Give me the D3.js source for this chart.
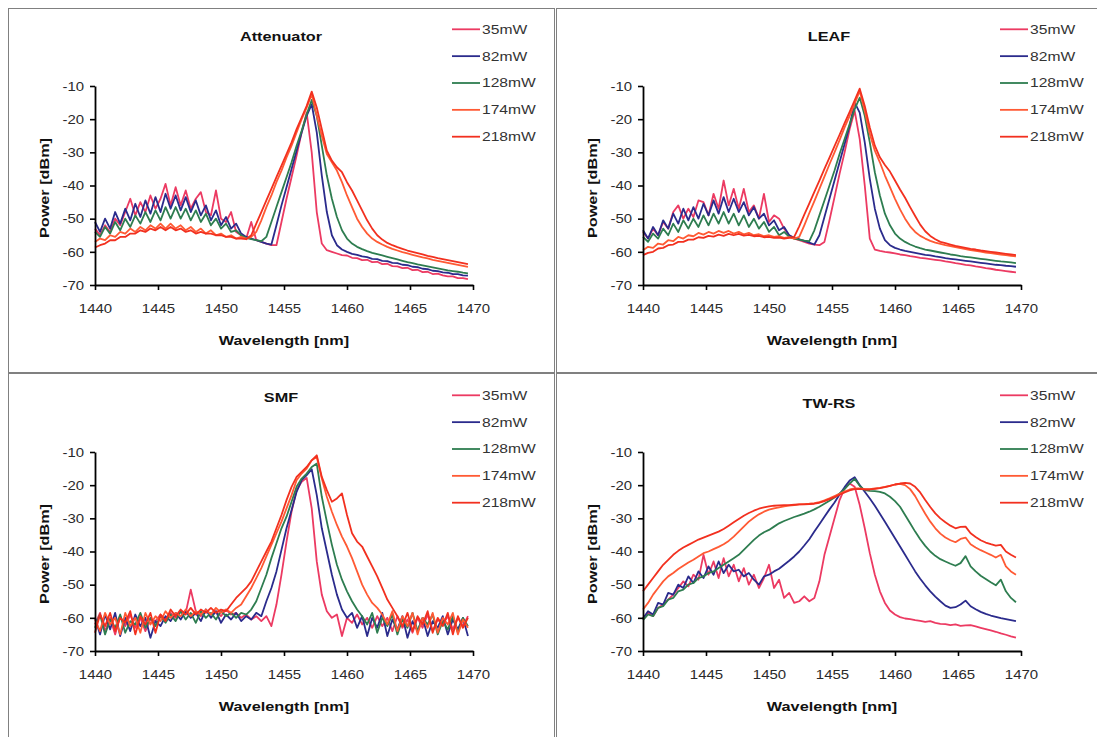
<!DOCTYPE html>
<html><head><meta charset="utf-8">
<script src="https://cdn.jsdelivr.net/npm/d3@7"></script>
<style>
html,body{margin:0;padding:0;background:#fff;}
svg{display:block;}
text{font-family:"Liberation Sans",Arial,sans-serif;}
</style></head><body>
<svg id="chart" width="1097" height="737"></svg>
<script>
const wavelengths = [1440,1440.4,1440.8,1441.2,1441.6,1442,1442.4,1442.8,1443.2,1443.6,
1444,1444.4,1444.8,1445.2,1445.6,1446,1446.4,1446.8,1447.2,1447.6,
1448,1448.4,1448.8,1449.2,1449.6,1450,1450.4,1450.8,1451.2,1451.6,
1452,1452.4,1452.8,1453.2,1453.6,1454,1454.4,1454.8,1455.2,1455.6,
1456,1456.4,1456.8,1457.2,1457.6,1458,1458.4,1458.8,1459.2,1459.6,
1460,1460.4,1460.8,1461.2,1461.6,1462,1462.4,1462.8,1463.2,1463.6,
1464,1464.4,1464.8,1465.2,1465.6,1466,1466.4,1466.8,1467.2,1467.6,
1468,1468.4,1468.8,1469.2,1469.6];
const powerLabels = ["35mW","82mW","128mW","174mW","218mW"];
const panelTitles = ["Attenuator","LEAF","SMF","TW-RS"];
const xTickValues = [1440,1445,1450,1455,1460,1465,1470];
const yTickValues = [-70,-60,-50,-40,-30,-20,-10];
const xAxisTitle = "Wavelength [nm]";
const yAxisTitle = "Power [dBm]";

// Attenuator
const att35 = [-53,-55,-52,-54,-50,-52,-48,-44,-49,-45,
-48,-43,-47,-44,-39.5,-46,-40.5,-46,-41.5,-47,
-44,-42,-48,-49,-41.5,-50,-51,-48,-54,-55,
-56,-51,-56.5,-57,-57.5,-58,-58,-51,-44,-37.5,
-31,-24,-18,-30,-48,-57.5,-59.5,-60,-60.5,-61,
-61.1,-61.8,-61.9,-62.5,-62.4,-63.1,-63,-63.7,-63.6,-64.3,
-64.4,-64.9,-64.8,-65.5,-65.4,-66.1,-66,-66.7,-66.6,-67.1,
-67.4,-67.4,-67.9,-67.9,-68.2];
const att82 = [-51,-54,-50,-53,-48,-51.5,-47,-50.5,-45.5,-49.5,
-44.5,-48.5,-43.5,-48,-42.5,-47,-43,-47.5,-43.5,-48,
-44.5,-49,-46,-50.5,-47.5,-52,-49.5,-53,-51.5,-54.5,
-55.5,-56,-56.5,-57,-57.5,-57.8,-52,-46,-40.5,-35,
-29.5,-24,-19,-15.5,-24,-37,-48,-55,-58,-59.3,
-60,-60.6,-60.9,-61.4,-61.6,-62.1,-62.2,-62.7,-62.8,-63.3,
-63.4,-63.9,-64,-64.5,-64.6,-65.1,-65.2,-65.7,-65.8,-66.2,
-66.3,-66.7,-66.7,-67.1,-67.2];
const att128 = [-54,-55.5,-52.5,-54.5,-51,-53.5,-50,-52.5,-49,-51.5,
-48,-51,-47.5,-50.5,-46.5,-50,-46.5,-50,-47,-50.5,
-47.5,-51,-48.5,-52,-50,-53,-51.5,-54,-53.5,-55,
-55.8,-56.2,-56.5,-56.8,-55.5,-51,-46.5,-42,-37.5,-33,
-28,-23.5,-18.5,-14.2,-19,-28,-37,-44,-49.5,-53.5,
-56,-57.5,-58.5,-59.2,-59.8,-60.3,-60.7,-61.1,-61.5,-61.9,
-62.3,-62.7,-63.1,-63.4,-63.8,-64.1,-64.4,-64.7,-65,-65.3,
-65.6,-65.8,-66,-66.3,-66.5];
const att174 = [-57,-56,-56.5,-55,-55.5,-54,-54.5,-53,-54,-52.5,
-53.5,-52,-53,-51.5,-53,-51.5,-53,-52,-53.5,-52.5,
-54,-53,-54.5,-53.5,-55,-54.5,-55.5,-55,-56,-55.5,
-56,-55.5,-54,-50.5,-46.5,-43,-39,-35.5,-31.5,-28,
-24,-20,-16.5,-12.5,-19,-25,-30.5,-33,-35.5,-39,
-43,-46.5,-50,-52.5,-54.5,-56,-57,-57.8,-58.5,-59.1,
-59.6,-60.1,-60.5,-60.9,-61.3,-61.7,-62,-62.4,-62.7,-63,
-63.3,-63.6,-63.9,-64.2,-64.5];
const att218 = [-58.7,-58,-57.5,-56.5,-56.5,-55.5,-55.5,-54.5,-54.5,-53.5,
-54,-53,-53.5,-52.5,-53.5,-52.5,-53.5,-53,-54,-53.5,
-54.5,-54,-54.5,-54.5,-55,-55,-55.5,-55.5,-56,-56,
-56.2,-55,-51.5,-48,-44.5,-41,-37.5,-34,-30.5,-27,
-23,-19.5,-16,-11.7,-16.5,-23,-29.5,-32.5,-34.5,-36,
-39,-41.5,-44.5,-47.5,-50.5,-53,-55,-56.3,-57.3,-58,
-58.6,-59.1,-59.6,-60,-60.4,-60.8,-61.2,-61.5,-61.9,-62.2,
-62.5,-62.8,-63.1,-63.4,-63.7];

// LEAF
const leaf35 = [-54,-56,-53,-55,-51,-53,-48,-46,-50,-47,
-49.5,-44.5,-45,-49,-42.5,-47,-38.5,-46,-41,-47,
-41,-48,-46,-50,-42.5,-51,-49,-50,-53,-55,
-56,-56.5,-57,-57.5,-57.8,-58,-57,-50.5,-43.5,-36.5,
-30,-23,-17.5,-26,-40,-56,-59.3,-59.7,-60,-60.2,
-60.5,-60.8,-61,-61.3,-61.5,-61.8,-62,-62.2,-62.4,-62.6,
-62.9,-63.1,-63.4,-63.6,-63.9,-64.1,-64.4,-64.6,-64.9,-65.1,
-65.4,-65.6,-65.8,-66,-66.2];
const leaf82 = [-53.5,-56,-52.5,-55,-50.5,-53,-48.5,-51.5,-47,-50.5,
-46.5,-50,-45.5,-49,-44.5,-48.5,-43.5,-48,-44,-48,
-45,-49,-46.5,-50,-48.5,-52,-50.5,-53.5,-52.5,-55,
-55.8,-56.2,-56.7,-57.2,-57.8,-55,-49.5,-44,-38.5,-33,
-27.5,-22,-15,-18,-27,-38,-47,-53,-56.5,-58,
-58.8,-59.3,-59.7,-60,-60.3,-60.6,-60.9,-61.1,-61.4,-61.6,
-61.9,-62.1,-62.3,-62.5,-62.7,-62.9,-63.1,-63.3,-63.5,-63.7,
-63.9,-64,-64.2,-64.3,-64.5];
const leaf128 = [-55.5,-57,-54.5,-56,-53,-55,-51.5,-54,-50.5,-53,
-50,-52.5,-49,-52,-48.5,-51.5,-48,-51.5,-48.5,-52,
-49,-52.5,-50,-53,-51,-54,-52.5,-55,-54,-55.5,
-56,-56.3,-56.6,-56.8,-53.5,-49,-44.5,-40,-35.5,-30.5,
-26,-21.5,-17,-13.5,-19,-27,-36,-43,-48.5,-52,
-54.5,-56,-57,-57.8,-58.4,-58.9,-59.3,-59.6,-59.9,-60.2,
-60.5,-60.8,-61,-61.3,-61.5,-61.7,-61.9,-62.1,-62.3,-62.5,
-62.7,-62.9,-63,-63.2,-63.4];
const leaf174 = [-59.5,-58.5,-58.8,-57.5,-57.8,-56.5,-56.8,-55.5,-56,-55,
-55.3,-54.3,-54.8,-54,-54.5,-53.7,-54.3,-53.7,-54.5,-54,
-54.7,-54.3,-55,-54.7,-55.3,-55,-55.5,-55.3,-55.8,-55.6,
-56,-55.5,-52,-48.3,-44.7,-41,-37.3,-33.6,-30,-26.3,
-22.5,-19,-15.3,-11.5,-17.5,-24.5,-29.5,-33,-37,-40.5,
-44,-47.2,-50,-52.3,-54,-55.2,-56,-56.7,-57.2,-57.6,
-58,-58.3,-58.6,-58.9,-59.2,-59.5,-59.7,-59.9,-60.2,-60.4,
-60.6,-60.8,-61,-61.2,-61.4];
const leaf218 = [-61,-60.3,-60,-59,-58.8,-58,-57.8,-57,-57,-56.3,
-56.3,-55.6,-55.8,-55.2,-55.4,-54.8,-55.2,-54.6,-55,-54.6,
-55.1,-54.9,-55.3,-55.2,-55.6,-55.5,-55.8,-55.7,-56,-55.8,
-55.5,-52.3,-48.8,-45.4,-41.9,-38.5,-35,-31.6,-28.1,-24.7,
-21.2,-17.8,-14.3,-10.8,-16,-22.5,-28,-31.5,-33.8,-35.8,
-38.5,-41.2,-43.7,-46.5,-49.2,-51.8,-53.8,-55.2,-56.2,-57,
-57.4,-57.8,-58.2,-58.5,-58.8,-59.1,-59.3,-59.6,-59.8,-60,
-60.2,-60.4,-60.6,-60.8,-61];

// SMF
const smf35 = [-62,-58.5,-64,-60,-65,-59.5,-62.5,-59,-63,-60,
-64,-60.5,-61,-59,-60.5,-58.5,-60,-58,-58.5,-51.5,
-58,-59.5,-57.5,-59,-58,-59.5,-57.5,-59,-58.5,-60,
-59,-60.5,-59.5,-61,-59.5,-62.5,-56,-47,-37,-28,
-21.5,-19,-17.8,-27,-43,-53,-58,-60,-59,-65.5,
-60,-61.5,-59,-62,-60,-63,-59.5,-62.5,-60,-64,
-59.5,-63,-60.5,-64.5,-60,-63,-59,-64,-60.5,-62,
-59.5,-63.5,-60,-62.5,-59.5];
const smf82 = [-60,-65,-59,-63.5,-58.5,-65.5,-60,-64,-59,-62.5,
-60,-66,-61,-62.5,-59.5,-61,-58.5,-60.5,-58,-60,
-58.5,-61,-57.5,-60,-58,-61.5,-59,-60.5,-58.5,-61,
-59.5,-60.5,-58.5,-59.5,-55,-51,-46,-39.5,-33,-27.5,
-22,-18.5,-17,-15.2,-23,-33,-40,-47,-53,-57.5,
-60,-58.5,-63,-59.5,-65.5,-60,-63,-58.5,-65.5,-60.5,
-63.5,-59.5,-66,-61,-64,-60,-65.5,-61,-63,-59.5,
-65,-60.5,-63.5,-60,-65.5];
const smf128 = [-63,-59,-65,-60.5,-63,-59,-64.5,-61,-62,-58.5,
-63,-60,-62.5,-59.5,-61.5,-59,-61,-58,-60.5,-58.5,
-61.5,-58,-60,-58.5,-60.5,-58,-59.5,-58.5,-60,-58.5,
-59,-57.5,-55,-51,-47,-42,-37.5,-33,-29.5,-25,
-20.5,-18,-16.5,-14.5,-13.5,-23.5,-31,-38,-44,-48.5,
-52,-55,-57.5,-59.5,-62,-58.5,-64.5,-60,-62.5,-59,
-65,-60.5,-63,-58.5,-64,-60,-62,-59,-65,-61,
-63.5,-59.5,-64.5,-60,-62.5];
const smf174 = [-60.5,-64,-58.5,-62,-60,-65,-58.5,-62.5,-60,-64.5,
-58.5,-62,-59.5,-61,-58,-60,-58.5,-59.5,-57.5,-59.5,
-58,-59,-57.5,-59,-57,-58.5,-57.5,-58.5,-57,-56,
-53.5,-51,-48,-45,-41.5,-38,-34.5,-31,-27,-23,
-18.5,-16.5,-15,-12.5,-11.5,-18,-23.5,-28,-32,-35.5,
-38.5,-42,-46,-50,-53,-55.5,-57,-59,-62,-58,
-64,-59.5,-62.5,-58.5,-65,-60,-63,-58.5,-64.5,-60,
-62,-58.5,-65,-60.5,-63];
const smf218 = [-64.5,-59,-62.5,-58.5,-64,-60,-61.5,-58,-65,-59.5,
-62,-58.5,-64.5,-59,-61,-57.5,-59.5,-57.5,-59,-57,
-59,-57.5,-58.5,-57,-58.5,-57.5,-58,-56,-54,-52.5,
-51,-49,-46,-43,-40,-37,-33,-29,-24.5,-20.5,
-17.5,-16,-14.5,-12.5,-11,-17.5,-21.5,-25,-24,-22.5,
-29,-34.5,-37,-38.5,-41.5,-44.5,-47.5,-51,-54.5,-57,
-59.5,-62.5,-58.5,-64,-59.5,-62,-58,-64.5,-60,-62.5,
-58.5,-65,-59.5,-63,-60];

// TW-RS
const tw35 = [-60,-58.5,-59.5,-57,-56,-54.5,-53,-51,-49,-50.5,
-47,-48.5,-41,-47,-43,-48,-42,-47.5,-44,-49,
-45,-50,-47,-51,-48,-44,-51,-48.5,-54,-52.5,
-55.5,-55,-53.5,-55,-54,-49,-41,-35.5,-30,-24.5,
-21,-19.5,-20.5,-26,-33,-40.5,-47,-52,-55.5,-57.8,
-59,-59.8,-60.2,-60.4,-60.7,-60.9,-61.2,-61,-61.5,-61.8,
-61.9,-62.2,-62,-62.4,-62.3,-62.2,-62.6,-63,-63.4,-63.8,
-64.2,-64.7,-65.1,-65.6,-66];
const tw82 = [-60.2,-58,-59,-55.5,-56,-52.5,-53,-50,-51,-47.5,
-49.5,-46,-48,-44.5,-47,-43,-46.5,-44,-46,-45.5,
-47.5,-46.5,-48.5,-50,-47.5,-47,-46,-45.2,-44,-42.8,
-41.5,-40,-38.2,-36.3,-34,-31.8,-29.5,-27.3,-25.2,-22.8,
-20.6,-18.6,-17.6,-20,-22,-24,-26.2,-28.6,-31,-33.5,
-36,-38.5,-41,-43.5,-46,-48.2,-50.2,-52,-53.6,-55,
-56.3,-57,-56.8,-56,-54.8,-56.5,-57.4,-58.2,-58.8,-59.3,
-59.7,-60.1,-60.4,-60.7,-61];
const tw128 = [-60.7,-59,-59.5,-57,-56.5,-54.5,-54,-52,-51.5,-50,
-49.5,-48,-47.5,-46.5,-46,-45,-44,-43,-42,-41,
-39.5,-38,-36.5,-35.2,-34.2,-33.5,-32.5,-31.5,-30.8,-30.2,
-29.6,-29.1,-28.6,-28,-27.3,-26.5,-25.6,-24.7,-23.7,-22.5,
-21.2,-19.5,-18.1,-20.2,-21.5,-21.7,-21.8,-22,-22.5,-23.5,
-24.8,-26.5,-29,-31.5,-34,-36.3,-38.3,-40,-41.3,-42.3,
-43,-43.7,-44.3,-43.5,-41.4,-44.5,-46,-47.3,-48.3,-49.3,
-50.2,-48.5,-52,-54,-55.3];
const tw174 = [-57.5,-55.5,-53,-51,-49,-47.5,-46.5,-45.3,-44.3,-43.3,
-42.5,-41.5,-40.5,-40,-39.3,-38.6,-37.8,-36.8,-35.5,-34,
-32.5,-31,-29.8,-28.8,-28,-27.4,-27,-26.7,-26.4,-26.2,
-26,-25.8,-25.7,-25.6,-25.4,-25.1,-24.6,-24,-23.3,-22.6,
-21.9,-21.3,-21,-21,-21.2,-21.2,-21,-20.8,-20.5,-20.2,
-19.8,-19.6,-20,-21.2,-23.3,-26,-28.6,-31,-33,-34.6,
-35.8,-36.6,-37.2,-36.2,-35.8,-37.8,-38.8,-39.6,-40.3,-41,
-41.8,-41,-44.5,-46,-47];
const tw218 = [-52,-50,-48,-46,-44,-42.5,-41,-39.8,-38.8,-38,
-37.2,-36.4,-35.8,-35.2,-34.6,-34,-33.2,-32.2,-31.2,-30.2,
-29.2,-28.4,-27.7,-27.1,-26.7,-26.4,-26.2,-26.1,-26,-26,
-25.9,-25.8,-25.8,-25.7,-25.6,-25.3,-24.8,-24.2,-23.6,-22.9,
-22.2,-21.6,-21.2,-21.1,-21.3,-21.3,-21.1,-20.9,-20.6,-20.2,
-19.8,-19.5,-19.3,-19.5,-20.5,-22.2,-24.5,-26.6,-28.5,-30,
-31.2,-32.2,-33,-32.6,-32.5,-34.5,-35.6,-36.6,-37.3,-37.8,
-38.2,-38,-40,-41,-41.8];

const seriesColors = ["#ec3a62","#2b2b8c","#2e7d50","#ff5a34","#f2301f"];

const panels = [
  {title: panelTitles[0], series: [att35, att82, att128, att174, att218], ox: 0,   oy: 0,   ty: 36},
  {title: panelTitles[1], series: [leaf35, leaf82, leaf128, leaf174, leaf218], ox: 548, oy: 0,   ty: 36},
  {title: panelTitles[2], series: [smf35, smf82, smf128, smf174, smf218], ox: 0,   oy: 366, ty: 31},
  {title: panelTitles[3], series: [tw35, tw82, tw128, tw174, tw218], ox: 548, oy: 366, ty: 37}
];

const svg = d3.select("#chart");
svg.append("rect").attr("width",1097).attr("height",737).attr("fill","#ffffff");

// panel frames
const frames = [[8.5,8.5,546,364],[556.5,8.5,560,364],[8.5,373.5,546,400],[556.5,373.5,560,400]];
svg.selectAll("rect.frame").data(frames).join("rect").attr("class","frame")
  .attr("x",d=>d[0]).attr("y",d=>d[1]).attr("width",d=>d[2]).attr("height",d=>d[3])
  .attr("fill","none").attr("stroke","#808080").attr("stroke-width",1);

function stretch(sel, k){
  sel.each(function(){
    const w = this.getComputedTextLength();
    this.setAttribute("textLength", (w*k).toFixed(1));
    this.setAttribute("lengthAdjust","spacingAndGlyphs");
  });
}

const PL = 95, PR = 473, PT = 86, PB = 285;

panels.forEach(p => {
  const g = svg.append("g").attr("transform", `translate(${p.ox},${p.oy})`);
  const x = d3.scaleLinear().domain([1440,1470]).range([PL,PR]);
  const y = d3.scaleLinear().domain([-70,-10]).range([PB,PT]);

  // lines
  const line = d3.line().x((d,i)=>x(wavelengths[i])).y(d=>y(d));
  p.series.forEach((s, k) => {
    g.append("path").datum(s).attr("d", line)
      .attr("fill","none").attr("stroke", seriesColors[k])
      .attr("stroke-width", 1.8).attr("stroke-linejoin","round");
  });

  // axes
  const fmt = d => String(d);
  const xa = g.append("g").attr("transform",`translate(0,${PB})`)
    .call(d3.axisBottom(x).tickValues(xTickValues).tickFormat(fmt).tickSize(5).tickSizeOuter(0).tickPadding(14));
  const ya = g.append("g").attr("transform",`translate(${PL},0)`)
    .call(d3.axisLeft(y).tickValues(yTickValues).tickFormat(fmt).tickSize(5).tickSizeOuter(0).tickPadding(6));
  [xa, ya].forEach(a => {
    a.select(".domain").attr("stroke","#000").attr("stroke-width",1.8);
    a.selectAll(".tick line").attr("stroke","#000").attr("stroke-width",1.6);
    a.selectAll(".tick text").attr("fill","#2a2a2a")
      .style("font-family",'"Liberation Sans",Arial,sans-serif').style("font-size","13px");
  });
  stretch(xa.selectAll(".tick text"), 1.15);
  stretch(ya.selectAll(".tick text"), 1.15);

  // title
  const t = g.append("text").attr("x",281).attr("y",p.ty).attr("dy","0.35em")
    .attr("text-anchor","middle").attr("font-weight","bold").attr("font-size",13)
    .attr("fill","#111").text(p.title);
  stretch(t, 1.25);

  // axis titles
  const xt = g.append("text").attr("x",284).attr("y",340).attr("dy","0.35em")
    .attr("text-anchor","middle").attr("font-weight","bold").attr("font-size",13)
    .attr("fill","#111").text(xAxisTitle);
  stretch(xt, 1.25);
  const yt = g.append("text").attr("transform","translate(44,188) rotate(-90)")
    .attr("dy","0.35em").attr("text-anchor","middle").attr("font-weight","bold")
    .attr("font-size",13).attr("fill","#111").text(yAxisTitle);
  yt.attr("textLength",100).attr("lengthAdjust","spacingAndGlyphs");

  // legend
  powerLabels.forEach((lab, k) => {
    const ly = 29.3 + k*26.85;
    g.append("line").attr("x1",452).attr("x2",480).attr("y1",ly).attr("y2",ly)
      .attr("stroke",seriesColors[k]).attr("stroke-width",1.8);
    const lt = g.append("text").attr("x",482).attr("y",ly).attr("dy","0.35em")
      .attr("font-size",12.5).attr("fill","#333").text(lab);
    stretch(lt, 1.25);
  });
});
</script>
</body></html>
